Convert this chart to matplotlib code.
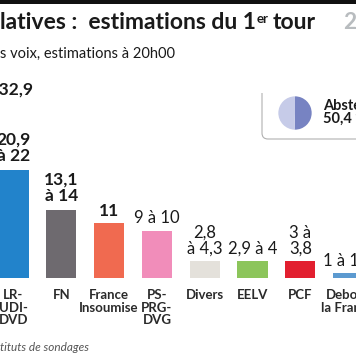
import matplotlib
matplotlib.use("Agg")
import matplotlib.pyplot as plt
from matplotlib.path import Path
from matplotlib.patches import PathPatch, Rectangle

plt.rcParams['font.family'] = ['Lato', 'DejaVu Sans']

# data (only the visible part of the AFP graphic)
parties = ['LREM-MoDem', 'LR-\nUDI-\nDVD', 'FN', 'France\nInsoumise', 'PS-\nPRG-\nDVG',
           'Divers', 'EELV', 'PCF', 'Debout\nla France']
bar_values = [32.5, 21.5, 13.5, 11, 9.5, 3.5, 3.5, 3.4, 1.1]
value_labels = ['32,2 à 32,9', '20,9\nà 22', '13,1\nà 14', '11', '9 à 10',
                '2,8\nà 4,3', '2,9 à 4', '3 à\n3,8', '1 à 1,5']
colors = ['#f5b400', '#2283cb', '#6e6a6f', '#f06a50', '#f18dba',
          '#e4e1db', '#8cc55b', '#e21f2f', '#5c9ad0']
label_weights = ['bold', 'bold', 'bold', 'bold', 'normal',
                 'normal', 'normal', 'normal', 'normal']
abstention = 50.4

W, H = 356, 364
fig = plt.figure(figsize=(W / 100, H / 100), dpi=100)
fig.patch.set_facecolor('white')


def fx(x):
    return x / W


def fy(y):
    return 1 - y / H


# top black rule
fig.add_artist(Rectangle((0, fy(4)), 1, 4 / H, transform=fig.transFigure,
                         color='#111111', lw=0))

# title in pieces so the "er" can be raised
renderer = fig.canvas.get_renderer()
title_size = 16.5
t1 = fig.text(fx(0), fy(29), 'latives :  estimations du 1', fontsize=title_size,
              fontweight='bold', color='#1a1a1a', va='baseline')
x_end = t1.get_window_extent(renderer).x1
t2 = fig.text(x_end / W + fx(1), fy(23), 'er', fontsize=9.5,
              fontweight='bold', color='#1a1a1a', va='baseline')
x_end = t2.get_window_extent(renderer).x1
fig.text(x_end / W + fx(4), fy(29), 'tour', fontsize=title_size,
         fontweight='bold', color='#1a1a1a', va='baseline')
fig.text(fx(343), fy(29), '2017', fontsize=title_size, fontweight='bold',
         color='#b8bcbf', va='baseline')
fig.text(fx(0), fy(58), 's voix, estimations à 20h00', fontsize=10.5,
         color='#1a1a1a', va='baseline')

# bar axes: slot spacing ~47.8 px, first (LREM) slot sits off the left edge
slot = 47.8
x0 = -34.3
base = 278
ax = fig.add_axes([fx(x0 - slot / 2), (H - base) / H, 9 * slot / W, 200 / H])
xs = list(range(len(parties)))
ax.bar(xs, bar_values, width=0.63, color=colors)
ax.set_xlim(-0.5, len(parties) - 0.5)
ax.set_ylim(0, 40)
ax.axis('off')

for i, (v, lab, w) in enumerate(zip(bar_values, value_labels, label_weights)):
    if i == 0:
        continue
    two_lines = '\n' in lab
    ax.annotate(lab, (i, v), xytext=(0, 5 if two_lines and w == 'bold' else 3),
                textcoords='offset points',
                ha='center', va='bottom', fontsize=12.5 if w == 'bold' else 12,
                fontweight=w, color='#1a1a1a', linespacing=1.0)
    ax.annotate(parties[i], (i, 0), xytext=(0, -8), textcoords='offset points',
                ha='center', va='top', fontsize=9.5, fontweight='bold',
                color='#2a2a2a', linespacing=1.05)

# LREM label, only its end is visible
fig.text(fx(33), fy(95), value_labels[0], fontsize=12.5, fontweight='bold',
         color='#1a1a1a', ha='right', va='baseline')

# abstention box
verts = [(fx(262), fy(93)), (fx(262), fy(133)), (fx(262), fy(139)),
         (fx(268), fy(139)), (fx(360), fy(139))]
codes = [Path.MOVETO, Path.LINETO, Path.CURVE3, Path.CURVE3, Path.LINETO]
fig.add_artist(PathPatch(Path(verts, codes), transform=fig.transFigure,
                         fill=False, edgecolor='#b0b0b0', lw=0.8))
pax = fig.add_axes([fx(278), fy(130), 34 / W, 34 / H])
pax.pie([abstention, 100 - abstention], colors=['#7783c2', '#c6cbe8'],
        startangle=90, counterclock=False, radius=1)
pax.set_xlim(-1.02, 1.02)
pax.set_ylim(-1.02, 1.02)
pax.set_aspect('equal')
fig.text(fx(323), fy(110), 'Abstention', fontsize=10.5, fontweight='bold',
         color='#1a1a1a', va='baseline')
fig.text(fx(323), fy(123), f'{abstention:.1f} %'.replace('.', ','), fontsize=10.5,
         fontweight='bold', color='#1a1a1a', va='baseline')

fig.text(fx(0), fy(351), 'tituts de sondages', fontsize=8.5, style='italic',
         color='#555555', va='baseline')

fig.savefig('out.png', dpi=100, facecolor='white')
